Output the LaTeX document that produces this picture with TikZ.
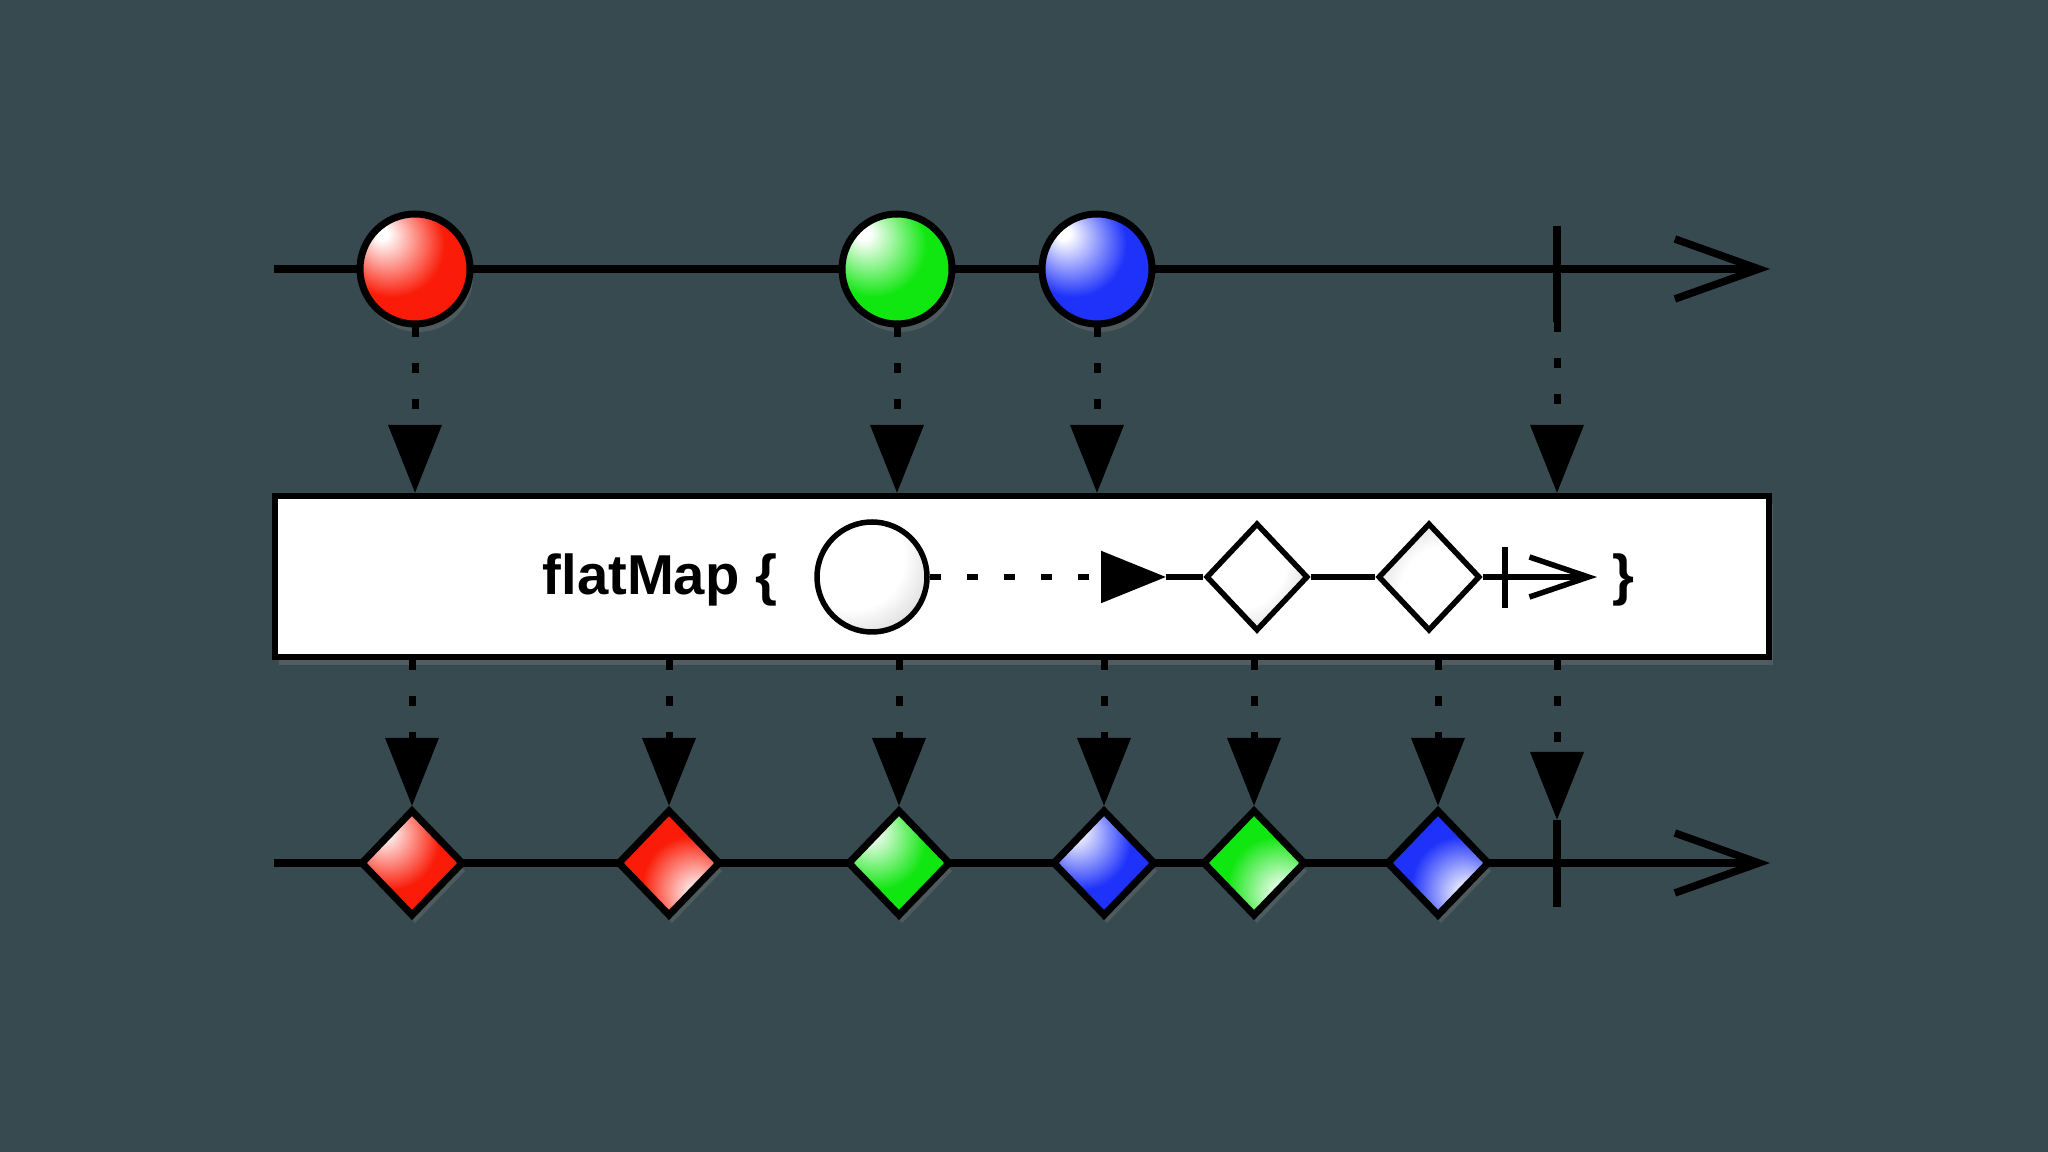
\documentclass[tikz,border=0pt]{standalone}
\usepackage{fontspec}
\setmainfont{Liberation Sans}
\usetikzlibrary{positioning,arrows.meta,shapes.geometric,shadows}

\definecolor{slate}{RGB}{55,74,80}
\definecolor{redball}{RGB}{250,28,8}
\definecolor{greenball}{RGB}{16,230,16}
\definecolor{blueball}{RGB}{30,50,250}
\colorlet{mcol}{redball}

% 光沢: 左上 / 右下
\pgfdeclareradialshading[mcol]{shineTL}{\pgfpoint{-16bp}{17bp}}{color(0bp)=(white); color(3bp)=(white); color(24bp)=(mcol); color(70bp)=(mcol)}
\pgfdeclareradialshading[mcol]{shineBR}{\pgfpoint{16bp}{-17bp}}{color(0bp)=(white); color(3bp)=(white); color(24bp)=(mcol); color(70bp)=(mcol)}
\pgfdeclareradialshading{pearlTL}{\pgfpoint{-14bp}{14bp}}{color(0bp)=(white); color(24bp)=(white); color(50bp)=(black!30); color(70bp)=(black!55)}
\pgfdeclareradialshading{pearlBR}{\pgfpoint{14bp}{-14bp}}{color(0bp)=(white); color(24bp)=(white); color(50bp)=(black!30); color(70bp)=(black!55)}

\tikzset{
  shine/.code={\colorlet{mcol}{#1}},
  ball/.style={circle,draw=black,line width=0.7mm,minimum size=11mm,inner sep=0pt,
    shade,shading=shineTL,drop shadow={opacity=0.3,shadow xshift=0.3mm,shadow yshift=-0.8mm}},
  gem/.style={diamond,draw=black,line width=0.7mm,minimum width=10.3mm,minimum height=10.7mm,
    inner sep=0pt,shade,drop shadow={opacity=0.3,shadow xshift=0.3mm,shadow yshift=-0.8mm}},
  gemw/.style={diamond,draw=black,line width=0.55mm,minimum width=10.2mm,minimum height=10.8mm,
    inner sep=0pt,shade},
  pearl/.style={circle,draw=black,line width=0.55mm,minimum size=11mm,inner sep=0pt,shade,shading=pearlTL},
  timeline/.style={line width=0.75mm,-{Straight Barb[length=8.4mm,width=6mm]}},
  tick/.style={line width=0.75mm},
  drop/.style={line width=0.7mm,dash pattern=on 1mm off 2.6mm,-{Triangle[length=6.8mm,width=5.2mm]}},
  codefont/.style={font=\fontsize{16}{19}\selectfont\bfseries,inner sep=0pt},
}

\begin{document}
\begin{tikzpicture}[x=0.1mm,y=-0.1mm]
  \def\yT{269} \def\yB{863} \def\yM{577}
  \fill[slate] (0,0) rectangle (2048,1152);
  \useasboundingbox (0,0) rectangle (2048,1152);

  % 上の時系列
  \coordinate (tS) at (274,\yT); \coordinate (tE) at (1770,\yT);
  \draw[timeline] (tS) -- (tE);
  \coordinate (endTa) at (1557,226); \coordinate (endTb) at (1557,322);
  \draw[tick] (endTa) -- (endTb);
  \node[ball,shine=redball]   (r) at (415,\yT) {};
  \node[ball,shine=greenball] (g) at (897,\yT) {};
  \node[ball,shine=blueball]  (b) at (1097,\yT) {};

  % 演算子の箱
  \node[draw=black,fill=white,line width=0.6mm,minimum width=149.4mm,minimum height=16.1mm,
    drop shadow={opacity=0.35,shadow xshift=0.4mm,shadow yshift=-0.8mm}] (fm) at (1022,576.5) {};
  \node[codefont,anchor=base west] (lbl) at (542,595) {flatMap \{};
  \node[pearl] (c0) at (872,\yM) {};
  \coordinate (tipA) at (1166,\yM);
  \draw[line width=0.55mm,dash pattern=on 1.1mm off 2.6mm,-{Triangle[length=6.5mm,width=5.1mm]}] (c0) -- (tipA);
  \node[gemw,shading=pearlTL] (d1) at (1257,\yM) {};
  \node[gemw,shading=pearlBR] (d2) at (1429,\yM) {};
  \coordinate (tipB) at (1597,\yM);
  \draw[line width=0.55mm] (tipA) -- (d1) (d1) -- (d2);
  \draw[line width=0.55mm,-{Straight Barb[length=5.9mm,width=4mm]}] (d2) -- (tipB);
  \coordinate (endMa) at (1505,547); \coordinate (endMb) at (1505,608);
  \draw[line width=0.55mm] (endMa) -- (endMb);
  \node[codefont,anchor=base west] (rb) at (1612,595) {\}};

  % 下の時系列
  \coordinate (bS) at (274,\yB); \coordinate (bE) at (1770,\yB);
  \draw[timeline] (bS) -- (bE);
  \coordinate (endBa) at (1557,820); \coordinate (endBb) at (1557,907);
  \draw[tick] (endBa) -- (endBb);
  \node[gem,shine=redball,shading=shineTL]   (o1) at (412,\yB) {};
  \node[gem,shine=redball,shading=shineBR]   (o2) at (669,\yB) {};
  \node[gem,shine=greenball,shading=shineTL] (o3) at (899,\yB) {};
  \node[gem,shine=blueball,shading=shineTL]  (o4) at (1104,\yB) {};
  \node[gem,shine=greenball,shading=shineBR] (o5) at (1254,\yB) {};
  \node[gem,shine=blueball,shading=shineBR]  (o6) at (1438,\yB) {};

  % 点線の矢印
  \foreach \n in {r,g,b}
    \draw[drop] (\n) -- (\n |- fm.north);
  \draw[drop] (endTb) -- (endTb |- fm.north);
  \foreach \n in {o1,o2,o3,o4,o5,o6}
    \draw[drop] (fm.south -| \n) -- (\n);
  \draw[drop] (fm.south -| endBa) -- (endBa);
\end{tikzpicture}
\end{document}
